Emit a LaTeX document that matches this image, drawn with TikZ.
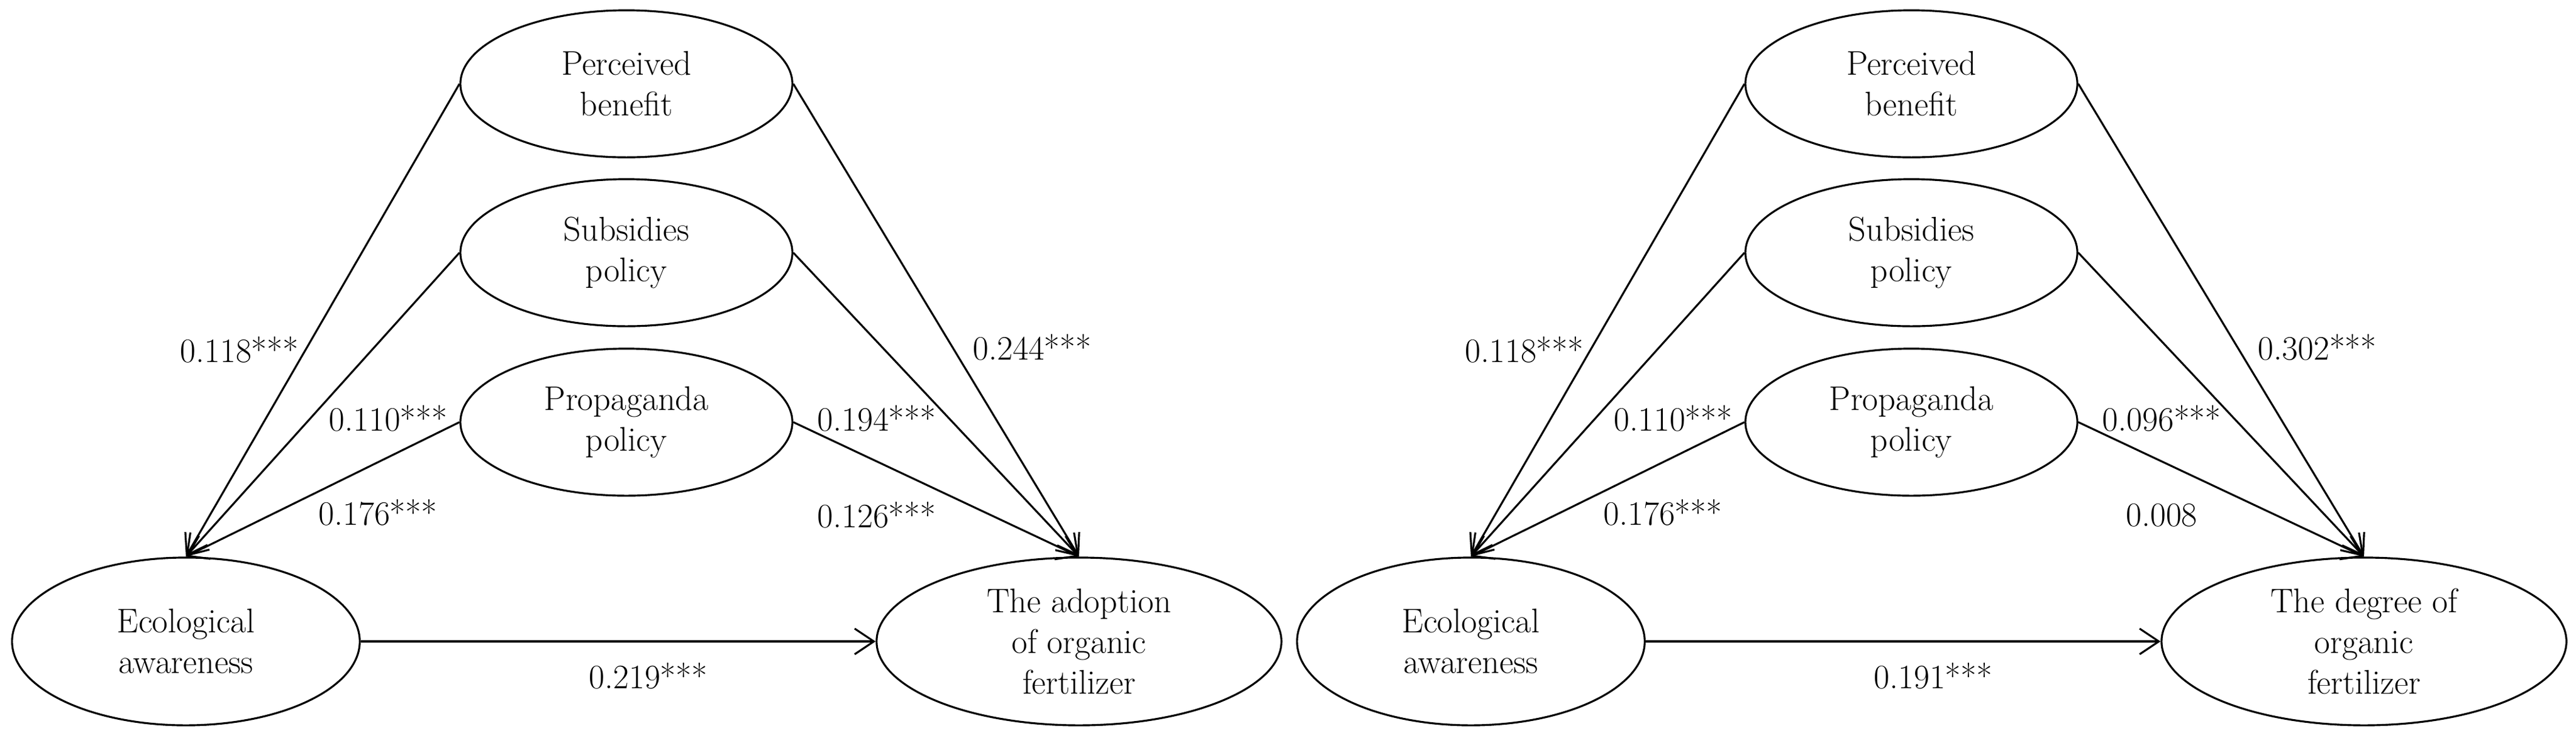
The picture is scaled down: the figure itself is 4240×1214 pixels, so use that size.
\documentclass[tikz,border=0pt]{standalone}
\usetikzlibrary{shapes.geometric,arrows.meta}
\begin{document}
\begin{tikzpicture}[x=0.01cm,y=-0.01cm, line width=0.9pt,
    font=\fontsize{16}{19}\selectfont,
    var/.style={draw, ellipse, align=center, inner sep=0pt, minimum width=5.46cm, minimum height=2.42cm},
    path/.style={-{Straight Barb[length=9pt,width=12pt]}}]
    \useasboundingbox (0,0) rectangle (4240,1214);

    \begin{scope}
        \node[var] (pb1) at (1031,138) {Perceived\\benefit};
        \node[var] (sp1) at (1031,416) {Subsidies\\policy};
        \node[var] (pp1) at (1031,695) {Propaganda\\policy};
        \node[var, minimum width=5.72cm, minimum height=2.76cm] (ea1) at (306,1056) {Ecological\\awareness};
        \node[var, minimum width=6.66cm, minimum height=2.76cm] (of1) at (1776,1056) {The adoption\\of organic\\fertilizer};
        \draw[path] (pb1.west) -- (ea1.north);
        \draw[path] (sp1.west) -- (ea1.north);
        \draw[path] (pp1.west) -- (ea1.north);
        \draw[path] (pb1.east) -- (of1.north);
        \draw[path] (sp1.east) -- (of1.north);
        \draw[path] (pp1.east) -- (of1.north);
        \draw[path] (ea1.east) -- (of1.west);
        \node (l11) at (394,576) {0.118***};
        \node (l12) at (639,689) {0.110***};
        \node (l13) at (622,844) {0.176***};
        \node (l14) at (1699,572) {0.244***};
        \node (l15) at (1443,689) {0.194***};
        \node (l16) at (1443,848) {0.126***};
        \node (l17) at (1067,1113) {0.219***};
    \end{scope}

    \begin{scope}[shift={(2115,0)}]
        \node[var] (pb2) at (1031,138) {Perceived\\benefit};
        \node[var] (sp2) at (1031,416) {Subsidies\\policy};
        \node[var] (pp2) at (1031,695) {Propaganda\\policy};
        \node[var, minimum width=5.72cm, minimum height=2.76cm] (ea2) at (306,1056) {Ecological\\awareness};
        \node[var, minimum width=6.66cm, minimum height=2.76cm] (of2) at (1776,1056) {The degree of\\organic\\fertilizer};
        \draw[path] (pb2.west) -- (ea2.north);
        \draw[path] (sp2.west) -- (ea2.north);
        \draw[path] (pp2.west) -- (ea2.north);
        \draw[path] (pb2.east) -- (of2.north);
        \draw[path] (sp2.east) -- (of2.north);
        \draw[path] (pp2.east) -- (of2.north);
        \draw[path] (ea2.east) -- (of2.west);
        \node (l21) at (394,576) {0.118***};
        \node (l22) at (639,689) {0.110***};
        \node (l23) at (622,844) {0.176***};
        \node (l24) at (1699,572) {0.302***};
        \node (l25) at (1443,689) {0.096***};
        \node (l26) at (1443,848) {0.008};
        \node (l27) at (1067,1113) {0.191***};
    \end{scope}
\end{tikzpicture}
\end{document}
